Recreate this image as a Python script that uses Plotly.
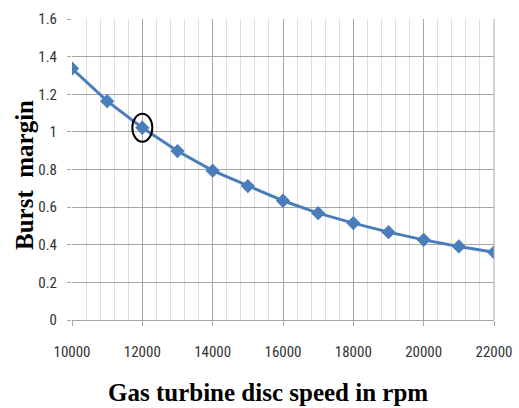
import plotly.graph_objects as go

speed_rpm = [10000, 11000, 12000, 13000, 14000, 15000, 16000, 17000, 18000, 19000, 20000, 21000, 22000]
burst_margin = [1.337, 1.163, 1.022, 0.898, 0.794, 0.712, 0.634, 0.568, 0.515, 0.467, 0.426, 0.391, 0.360]
x_ticks = [10000, 12000, 14000, 16000, 18000, 20000, 22000]
y_ticks = [0, 0.2, 0.4, 0.6, 0.8, 1, 1.2, 1.4, 1.6]
y_tick_text = ["0", "0.2", "0.4", "0.6", "0.8", "1", "1.2", "1.4", "1.6"]
highlight_x = 12000
highlight_y = 1.022

tick_font = dict(family="Liberation Sans Narrow, Roboto Condensed, Liberation Sans", size=15, color="#333333")
title_font = dict(family="Liberation Serif", size=25, color="#000000")
ytitle_font = dict(family="Liberation Serif", size=25, color="#000000")

fig = go.Figure()
fig.add_trace(go.Scatter(
    x=speed_rpm, y=burst_margin, mode="lines+markers",
    line=dict(color="#4a7ebb", width=3),
    marker=dict(symbol="diamond", size=11, color="#4a7ebb"),
    showlegend=False,
))

fig.add_shape(type="circle", xref="x", yref="y",
              xsizemode="pixel", ysizemode="pixel",
              xanchor=highlight_x, yanchor=highlight_y,
              x0=-10, x1=10, y0=-14, y1=14,
              line=dict(color="black", width=2))

fig.update_layout(
    width=519, height=408,
    margin=dict(l=72, r=25, t=19, b=88, autoexpand=False),
    paper_bgcolor="white", plot_bgcolor="white",
    xaxis=dict(
        range=[10000, 22000], tickvals=x_ticks, ticktext=[str(v) for v in x_ticks],
        showgrid=True, gridcolor="#a6a6a6", gridwidth=1,
        minor=dict(dtick=400, showgrid=True, gridcolor="#dedede", gridwidth=1, tick0=10000),
        ticks="outside", ticklen=5, tickcolor="#a6a6a6",
        showline=True, linecolor="#a6a6a6", mirror=False, automargin=False,
        tickfont=tick_font, ticklabelstandoff=13, zeroline=False,
    ),
    yaxis=dict(
        range=[0, 1.6], tickvals=y_ticks, ticktext=y_tick_text,
        showgrid=True, gridcolor="#a6a6a6", gridwidth=1,
        ticks="outside", ticklen=4, tickcolor="#a6a6a6",
        showline=False, zeroline=False, automargin=False,
        tickfont=tick_font, ticklabelstandoff=7,
    ),
    annotations=[
        dict(text="<b>Gas turbine disc speed in rpm</b>", xref="paper", yref="paper",
             x=(268 - 72) / 422, y=-(392 - 320) / 301, xanchor="center", yanchor="middle",
             showarrow=False, font=title_font),
        dict(text="<b>Burst  margin</b>", xref="paper", yref="paper",
             x=-(72 - 24) / 422, y=(320 - 175) / 301, xanchor="center", yanchor="middle",
             textangle=-90, showarrow=False, font=ytitle_font),
    ],
)
fig.add_shape(type="line", xref="paper", yref="paper", x0=1, x1=1, y0=0, y1=1,
              line=dict(color="#a6a6a6", width=1))

fig.write_html("out.html")
